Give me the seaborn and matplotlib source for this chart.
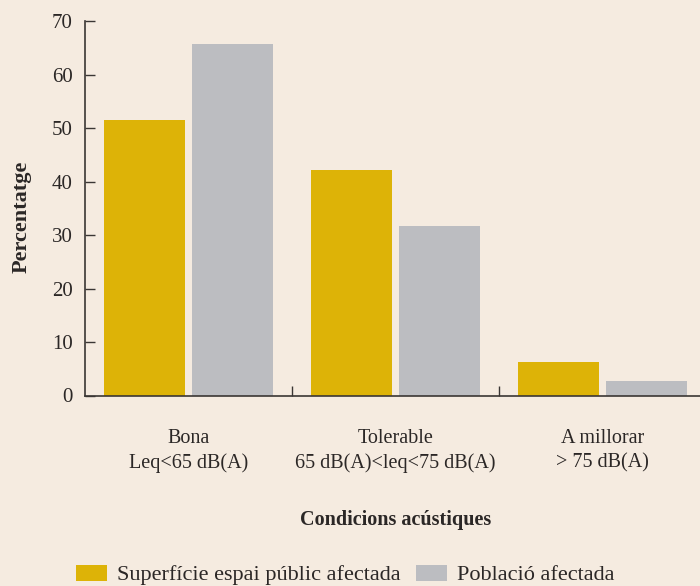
import matplotlib
matplotlib.use("Agg")
import matplotlib.pyplot as plt
from matplotlib.patches import Patch
import seaborn as sns
import pandas as pd

# data
categories = ["Bona\nLeq<65 dB(A)", "Tolerable\n65 dB(A)<leq<75 dB(A)", "A millorar\n> 75 dB(A)"]
series = ["Superfície espai públic afectada", "Població afectada"]
superficie = [51.5, 42.2, 6.3]
poblacio = [65.7, 31.7, 2.7]
yticks = [0, 10, 20, 30, 40, 50, 60, 70]

BG = "#F5EBE0"
GOLD = "#DDB307"
GREY = "#BCBDC1"
INK = "#2B2726"

sns.set_theme(style="white")
plt.rcParams["font.family"] = ["Liberation Serif", "DejaVu Serif"]

df = pd.DataFrame({
    "cat": categories * 2,
    "serie": [series[0]] * 3 + [series[1]] * 3,
    "pct": superficie + poblacio,
})

fig = plt.figure(figsize=(7, 5.86), dpi=100, facecolor=BG)
ax = fig.add_axes([85 / 700, 1 - 395.5 / 586, 615 / 700, 374.2 / 586])
ax.set_facecolor(BG)

sns.barplot(data=df, x="cat", y="pct", hue="serie", order=categories,
            hue_order=series, palette=[GOLD, GREY], width=0.85, gap=0.09,
            saturation=1, legend=False, edgecolor="none", linewidth=0, ax=ax)

ax.set_xlim(-0.5, -0.5 + 615 / 207)
ax.set_ylim(0, 70)
ax.set_yticks(yticks)
ax.set_yticklabels([str(t) for t in yticks])

for side in ["top", "right"]:
    ax.spines[side].set_visible(False)
for side in ["left", "bottom"]:
    ax.spines[side].set_color("#3A3634")
    ax.spines[side].set_linewidth(1.2)

ax.tick_params(axis="y", direction="in", length=7, width=1, color="#3A3634",
               labelsize=15, labelcolor=INK, pad=9, left=True)
ax.tick_params(axis="x", which="major", length=0, labelsize=14.5,
               labelcolor=INK, pad=24)
for lab in ax.get_xticklabels():
    lab.set_linespacing(1.4)
ax.set_xticks([0.5, 1.5], minor=True)
ax.tick_params(axis="x", which="minor", direction="in", length=7, width=1,
               color="#3A3634", bottom=True)

ax.set_xlabel("Condicions acústiques", fontsize=14.5, fontweight="bold", color=INK)
ax.xaxis.set_label_coords((396 - 85) / 615, -(520 - 395.5) / 374.2)
ax.set_ylabel("Percentatge", fontsize=16, fontweight="bold", color=INK)
ax.yaxis.set_label_coords(-(85 - 22) / 615, (395.5 - 217) / 374.2)
ax.xaxis.label.set_va("center")
ax.yaxis.label.set_va("center")

handles = [Patch(facecolor=GOLD, edgecolor="none"), Patch(facecolor=GREY, edgecolor="none")]
fig.legend(handles, series, loc="center left", bbox_to_anchor=(76 / 700, 1 - 575 / 586),
           ncol=2, frameon=False, fontsize=16, handlelength=1.4, handleheight=0.72,
           handletextpad=0.45, columnspacing=0.7, borderpad=0, borderaxespad=0,
           labelcolor=INK)

fig.savefig("out.png", dpi=100, facecolor=BG)
